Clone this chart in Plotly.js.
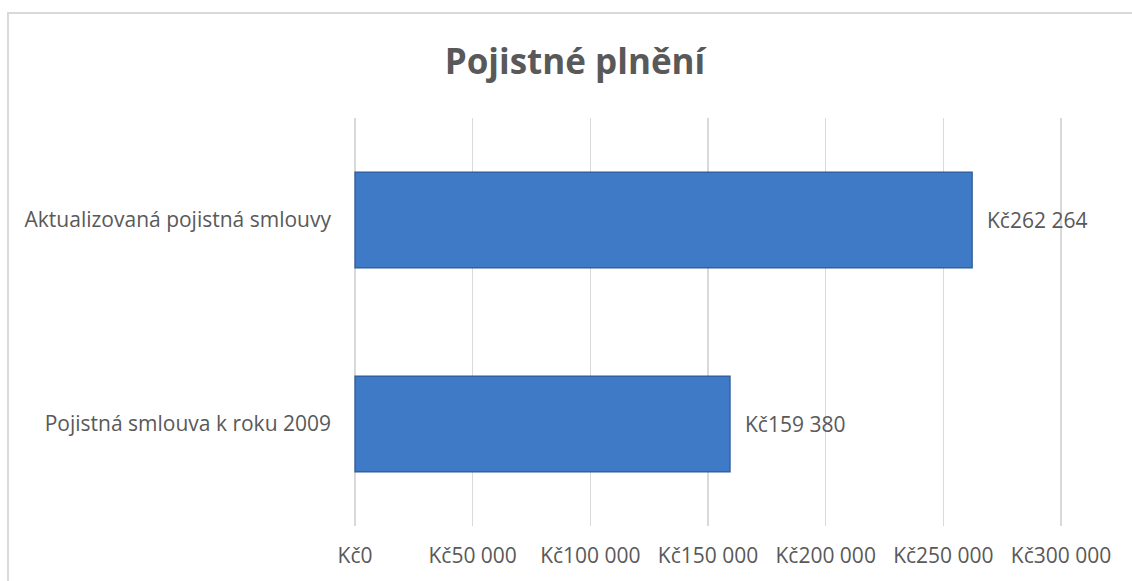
<!DOCTYPE html>
<html>
<head>
<meta charset="utf-8">
<script src="https://cdn.plot.ly/plotly-3.0.1.min.js"></script>
<style>
  html, body { margin: 0; padding: 0; background: #fff; }
  #wrap { position: relative; width: 1132px; height: 581px; overflow: hidden; }
  #chart { width: 1132px; height: 581px; }
  #frame { position: absolute; left: 7px; top: 12px; width: 1200px; height: 700px;
           border-left: 2px solid #d9d9d9; border-top: 2px solid #d9d9d9; pointer-events: none; }
</style>
</head>
<body>
<div id="wrap">
  <div id="chart"></div>
  <div id="frame"></div>
</div>
<script>
const categories = ["Pojistná smlouva k roku 2009", "Aktualizovaná pojistná smlouvy"];
const values = [159380, 262264];
const tickValues = [0, 50000, 100000, 150000, 200000, 250000, 300000];
const tickLabels = ["Kč0", "Kč50 000", "Kč100 000", "Kč150 000", "Kč200 000", "Kč250 000", "Kč300 000"];
const valueLabels = ["Kč159 380", "Kč262 264"];

const FONT = "'Open Sans', 'Noto Sans', sans-serif";
const GREY = "#595959";
const FS = 21;

const trace = {
  type: "bar",
  orientation: "h",
  x: values,
  y: categories,
  width: 0.47,
  marker: { color: "#3F7AC6", line: { color: "#2C5A97", width: 1.2 } },
  hoverinfo: "none"
};

const annotations = values.map((v, i) => ({
  x: v, y: categories[i], xref: "x", yref: "y",
  text: valueLabels[i], showarrow: false, xanchor: "left", xshift: 13,
  font: { family: FONT, size: FS, color: GREY }
}));

const layout = {
  width: 1132, height: 581,
  margin: { l: 353, r: 69, t: 118, b: 55 },
  paper_bgcolor: "rgba(0,0,0,0)",
  plot_bgcolor: "#fff",
  showlegend: false,
  title: {
    text: "<b>Pojistné plnění</b>",
    x: 575 / 1132, xref: "container", xanchor: "center",
    y: 1 - 62 / 581, yref: "container", yanchor: "middle",
    font: { family: FONT, size: 35, color: GREY }
  },
  font: { family: FONT, size: FS, color: GREY },
  xaxis: {
    range: [-850, 300850],
    tickvals: tickValues,
    ticktext: tickLabels,
    showgrid: true, gridcolor: "#d9d9d9", gridwidth: 1.5,
    zeroline: false, showline: false, ticks: "",
    ticklabelstandoff: 15,
    tickfont: { family: FONT, size: FS, color: GREY },
    fixedrange: true
  },
  yaxis: {
    range: [-0.5, 1.5],
    showgrid: false, zeroline: false, showline: false, ticks: "",
    ticklabelstandoff: 21,
    tickfont: { family: FONT, size: FS, color: GREY },
    fixedrange: true
  },
  annotations: annotations
};

Plotly.newPlot("chart", [trace], layout, { displayModeBar: false, staticPlot: true });
</script>
</body>
</html>
